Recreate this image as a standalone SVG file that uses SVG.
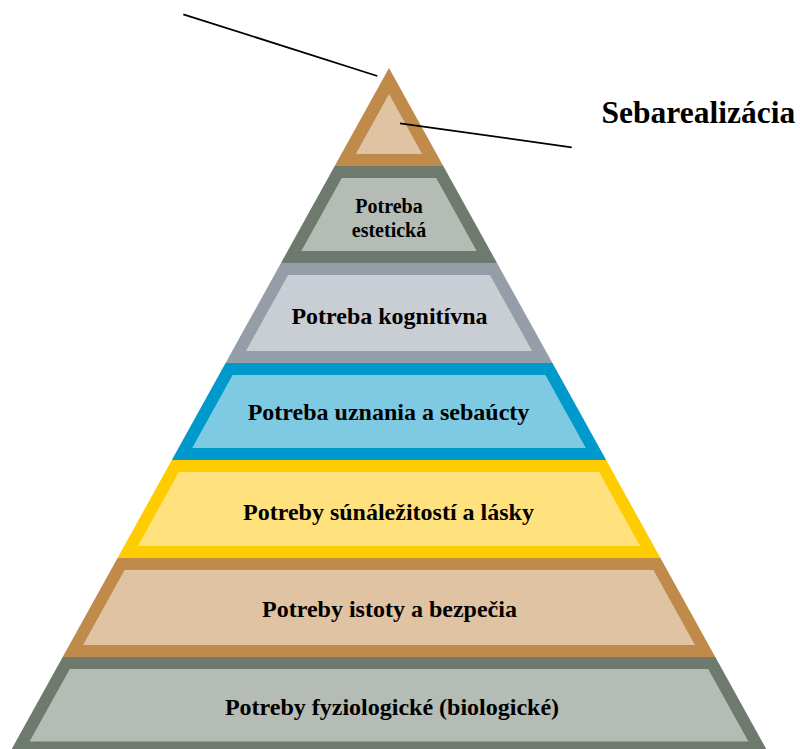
<svg xmlns="http://www.w3.org/2000/svg" width="800" height="749" viewBox="0 0 800 749">
  <style>
    .lbl { font-family: "Liberation Serif", "Times New Roman", serif; font-weight: bold; fill: #000; text-anchor: middle; }
    .big { font-size: 24px; }
    .small { font-size: 20px; }
    .title { font-family: "Liberation Serif", "Times New Roman", serif; font-weight: bold; font-size: 31.5px; fill: #000; }
    .tan-o { fill: #BF8A4A; }
    .tan-i { fill: #DFC3A2; }
    .sage-o { fill: #6E7A6D; }
    .sage-i { fill: #B5BBB5; }
    .slate-o { fill: #959EA8; }
    .slate-i { fill: #C9CDD4; }
    .blue-o { fill: #0099CC; }
    .blue-i { fill: #7FCAE3; }
    .gold-o { fill: #FFCC00; }
    .gold-i { fill: #FFE27E; }
    .leader { stroke: #000; stroke-width: 1.8; fill: none; }
  </style>
  <rect width="800" height="749" fill="#fff"/>

  <!-- apex: self-actualisation -->
  <g id="sebarealizacia">
    <polygon class="tan-o" points="389,68 334.7,166 443.3,166"/>
    <polygon class="tan-i" points="389,94 355.8,154 422.2,154"/>
  </g>

  <g id="esteticka">
    <polygon class="sage-o" points="334.7,166 443.3,166 497.03,263 280.97,263"/>
    <polygon class="sage-i" points="341.76,178 436.24,178 476.68,251 301.32,251"/>
    <text class="lbl small" x="389" y="213.3">Potreba</text>
    <text class="lbl small" x="389" y="236.7">estetická</text>
  </g>

  <g id="kognitivna">
    <polygon class="slate-o" points="280.97,263 497.03,263 552.43,363 225.57,363"/>
    <polygon class="slate-i" points="288.02,275 489.98,275 532.08,351 245.92,351"/>
    <text class="lbl big" x="389.5" y="324">Potreba kognitívna</text>
  </g>

  <g id="uznanie">
    <polygon class="blue-o" points="225.57,363 552.43,363 606.17,460 171.83,460"/>
    <polygon class="blue-i" points="232.62,375 545.38,375 585.82,448 192.18,448"/>
    <text class="lbl big" x="388.5" y="419.5">Potreba uznania a sebaúcty</text>
  </g>

  <g id="laska">
    <polygon class="gold-o" points="171.83,460 606.17,460 660.46,558 117.54,558"/>
    <polygon class="gold-i" points="178.88,472 599.12,472 640.11,546 137.89,546"/>
    <text class="lbl big" x="388.5" y="519.5">Potreby súnáležitostí a lásky</text>
  </g>

  <g id="bezpecie">
    <polygon class="tan-o" points="117.54,558 660.46,558 715.31,657 62.69,657"/>
    <polygon class="tan-i" points="124.59,570 653.41,570 694.96,645 83.04,645"/>
    <text class="lbl big" x="389.5" y="616.5">Potreby istoty a bezpečia</text>
  </g>

  <g id="fyziologicke">
    <polygon class="sage-o" points="62.69,657 715.31,657 768.49,753 9.51,753"/>
    <polygon class="sage-i" points="69.75,669 708.25,669 748.42,741.5 29.58,741.5"/>
    <text class="lbl big" x="392" y="715">Potreby fyziologické (biologické)</text>
  </g>

  <!-- leader lines -->
  <g id="connectors">
    <line class="leader" x1="183.3" y1="14.3" x2="377.3" y2="76"/>
    <line class="leader" x1="400" y1="123.3" x2="571.7" y2="147.3"/>
  </g>

  <text class="title" x="601.5" y="123.3">Sebarealizácia</text>
</svg>
